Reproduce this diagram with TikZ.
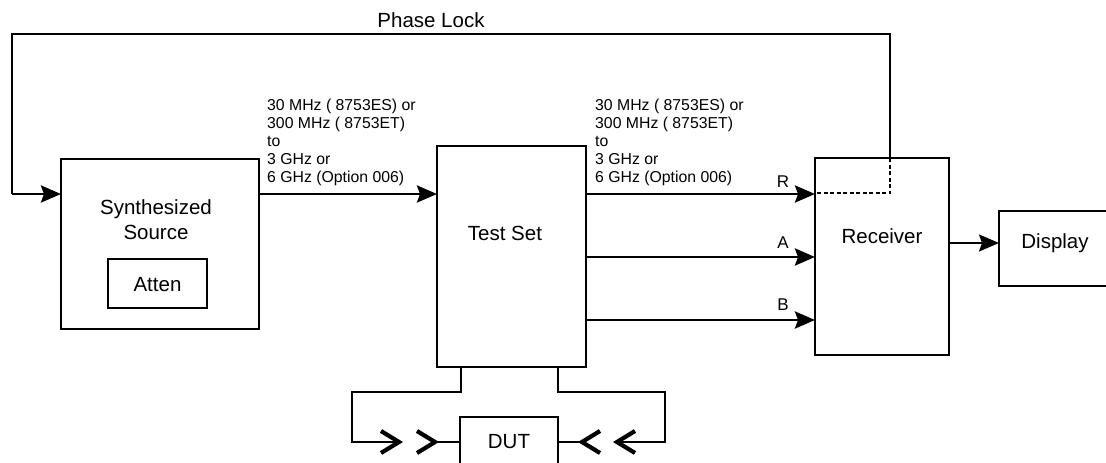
\documentclass[tikz,border=0pt]{standalone}
\usepackage{fontspec}
\setmainfont{Liberation Sans}
\usetikzlibrary{arrows.meta,calc}
\begin{document}
\begin{tikzpicture}[x=1pt,y=-1pt,
  box/.style={draw, line width=2.8pt, inner sep=0pt, outer sep=0pt},
  wire/.style={line width=2.8pt},
  thinwire/.style={line width=2pt},
  arr/.style={-{Stealth[length=20pt,width=17pt,inset=3pt]}},
  chev/.style={line width=4.2pt, line join=miter, line cap=butt},
  dotline/.style={line width=2.4pt, dash pattern=on 4pt off 2.5pt},
  big/.style={font=\fontsize{20.5}{24}\selectfont, inner sep=0pt},
  mid/.style={font=\fontsize{17}{20}\selectfont, inner sep=0pt},
  small/.style={font=\fontsize{15.8}{18}\selectfont, align=left, inner sep=0pt, anchor=west}]
\useasboundingbox (0,0) rectangle (1106,463);
\clip (0,0) rectangle (1106,463);
\fill[white] (0,0) rectangle (1106,463);

% boxes
\node[box, minimum width=198pt, minimum height=170pt] (src) at (160,244) {};
\node[box, minimum width=99pt, minimum height=49pt] (att) at (157.5,283.5) {};
\node[box, minimum width=149pt, minimum height=221pt] (ts) at (511.5,256.5) {};
\node[box, minimum width=134pt, minimum height=197pt] (rcv) at (882,256.5) {};
\node[box, minimum width=150pt, minimum height=75pt] (disp) at (1074,248.5) {};
\node[box, minimum width=98pt, minimum height=70pt] (dut) at (509,452) {};

% texts
\node[big] (tsyn) at (156,209) {Synthesized};
\node[big] (tsrc) at (156,232) {Source};
\node[big] (tatt) at (157.5,285) {Atten};
\node[big] (tts) at (505,233) {Test Set};
\node[big] (trcv) at (882,236) {Receiver};
\node[big] (tdisp) at (1055,243) {Display};
\node[big] (tdut) at (509,442) {DUT};
\node[big] (tpl) at (431,20) {Phase Lock};
\node[small] (lab1) at (267,142) {30 MHz ( 8753ES) or\\300 MHz ( 8753ET)\\to\\3 GHz or\\6 GHz (Option 006)};
\node[small] (lab2) at (595,142) {30 MHz ( 8753ES) or\\300 MHz ( 8753ET)\\to\\3 GHz or\\6 GHz (Option 006)};
\node[mid] (tR) at (783,182) {R};
\node[mid] (tA) at (783,243) {A};
\node[mid] (tB) at (783,305) {B};

% coordinates
\coordinate (plr) at (890,158);
\coordinate (plc) at (890,193);
\coordinate (plin) at (815,193);
\coordinate (pltr) at (890,34);
\coordinate (pltl) at (12,34);
\coordinate (plbl) at (12,194);

% phase lock loop
\draw[wire] (plr) -- (pltr) -- (pltl) -- (plbl);
\draw[wire, arr] (plbl) -- (plbl -| src.west);
\draw[dotline] (plr) -- (plc) -- (plin);

% main signal paths
\draw[wire, arr] (src.east |- 0,194) -- (ts.west |- 0,194);
\draw[wire, arr] (ts.east |- 0,194) -- (rcv.west |- 0,194);
\draw[wire, arr] (ts.east |- 0,257) -- (rcv.west |- 0,257);
\draw[wire, arr] (ts.east |- 0,320) -- (rcv.west |- 0,320);
\draw[thinwire, arr] (rcv.east |- 0,243) -- (disp.west |- 0,243);

% DUT connections (left)
\coordinate (tsl) at (461,367);
\coordinate (l1) at (461,392);
\coordinate (l2) at (352,392);
\coordinate (l3) at (352,442);
\coordinate (lt1) at (399,442);
\coordinate (lt2) at (435,442);
\draw[wire] (tsl) -- (l1) -- (l2) -- (l3) -- (lt1);
\draw[chev] ($(lt1)+(-18,-11)$) -- (lt1) -- ($(lt1)+(-18,11)$);
\draw[chev] ($(lt2)+(-18,-11)$) -- (lt2) -- ($(lt2)+(-18,11)$);
\draw[wire] (lt2) -- (dut.west |- lt2);

% DUT connections (right)
\coordinate (tsr) at (558,367);
\coordinate (r1) at (558,392);
\coordinate (r2) at (665,392);
\coordinate (r3) at (665,442);
\coordinate (rt1) at (617,442);
\coordinate (rt2) at (582,442);
\draw[wire] (tsr) -- (r1) -- (r2) -- (r3) -- (rt1);
\draw[chev] ($(rt1)+(18,-11)$) -- (rt1) -- ($(rt1)+(18,11)$);
\draw[chev] ($(rt2)+(18,-11)$) -- (rt2) -- ($(rt2)+(18,11)$);
\draw[wire] (rt2) -- (dut.east |- rt2);
\end{tikzpicture}
\end{document}
